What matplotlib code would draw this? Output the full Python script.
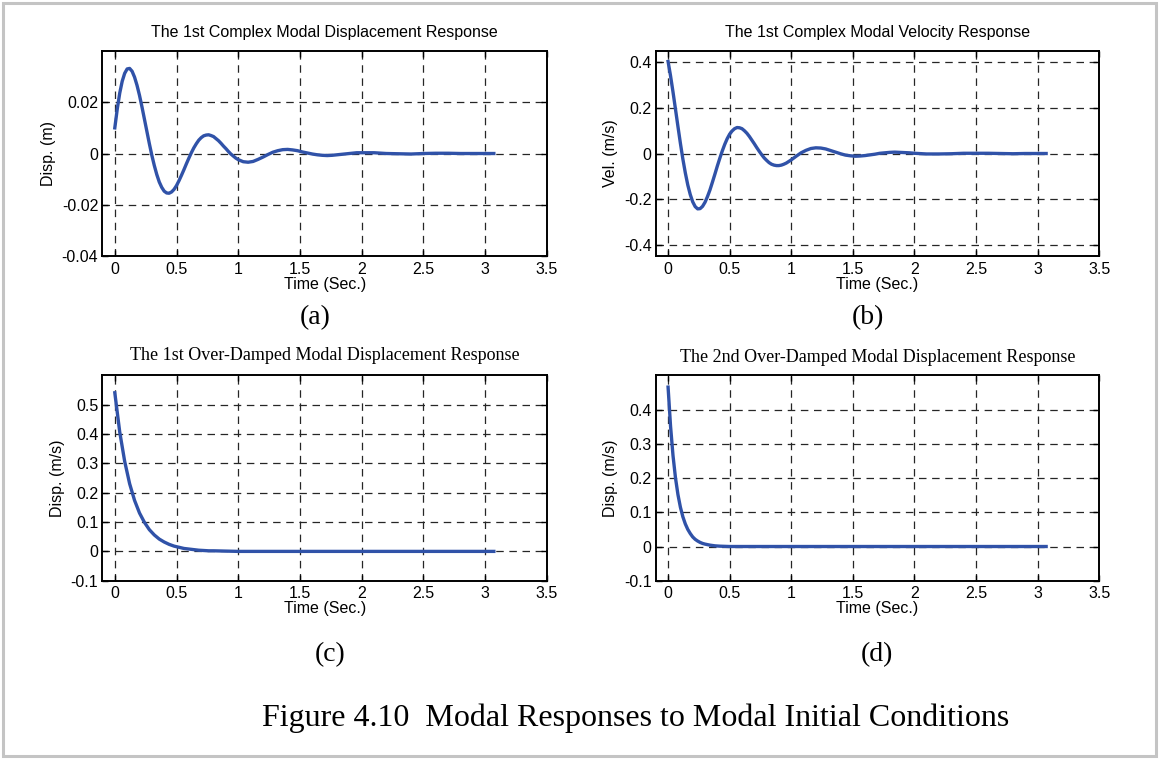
import matplotlib
matplotlib.use('Agg')
import matplotlib.pyplot as plt
from matplotlib.patches import Rectangle

# time samples (sec) for the complex mode, dense while it still rings
t_complex = [0.00, 0.02, 0.04, 0.06, 0.08, 0.10, 0.12, 0.14, 0.16, 0.18,
             0.20, 0.22, 0.24, 0.26, 0.28, 0.30, 0.32, 0.34, 0.36, 0.38,
             0.40, 0.42, 0.44, 0.46, 0.48, 0.50, 0.52, 0.54, 0.56, 0.58,
             0.60, 0.62, 0.64, 0.66, 0.68, 0.70, 0.72, 0.74, 0.76, 0.78,
             0.80, 0.82, 0.84, 0.86, 0.88, 0.90, 0.92, 0.94, 0.96, 0.98,
             1.00, 1.04, 1.08, 1.12, 1.16, 1.20, 1.24, 1.28, 1.32, 1.36,
             1.40, 1.44, 1.48, 1.52, 1.56, 1.60, 1.64, 1.68, 1.72, 1.76,
             1.80, 1.84, 1.88, 1.92, 1.96, 2.00, 2.10, 2.20, 2.30, 2.40,
             2.50, 2.60, 2.70, 2.80, 2.90, 3.00, 3.07]

# 1st complex mode displacement (m)
disp_complex = [0.0100, 0.0174, 0.0236, 0.0282, 0.0313, 0.0330, 0.0332, 0.0321, 0.0298, 0.0266,
                0.0227, 0.0182, 0.0134, 0.0086, 0.0038, -0.0007, -0.0047, -0.0082, -0.0111, -0.0132,
                -0.0147, -0.0154, -0.0155, -0.0150, -0.0140, -0.0125, -0.0106, -0.0085, -0.0063, -0.0040,
                -0.0018, 0.0003, 0.0022, 0.0038, 0.0052, 0.0062, 0.0069, 0.0072, 0.0073, 0.0070,
                0.0066, 0.0058, 0.0050, 0.0040, 0.0029, 0.0019, 0.0008, -0.0002, -0.0010, -0.0018,
                -0.0024, -0.0032, -0.0034, -0.0031, -0.0023, -0.0014, -0.0004, 0.0005, 0.0011, 0.0015,
                0.0016, 0.0014, 0.0011, 0.0006, 0.0002, -0.0002, -0.0005, -0.0007, -0.0008, -0.0007,
                -0.0005, -0.0003, -0.0001, 0.0001, 0.0003, 0.0003, 0.0003, 0.0000, -0.0001, -0.0002,
                0.0000, 0.0001, 0.0001, 0.0000, 0.0000, 0.0000, 0.0000]

# 1st complex mode velocity (m/s)
vel_complex = [0.404, 0.341, 0.270, 0.195, 0.119, 0.045, -0.024, -0.085, -0.138, -0.180,
               -0.212, -0.233, -0.243, -0.242, -0.232, -0.214, -0.189, -0.160, -0.126, -0.091,
               -0.055, -0.021, 0.011, 0.040, 0.065, 0.085, 0.099, 0.109, 0.114, 0.113,
               0.109, 0.100, 0.089, 0.075, 0.059, 0.043, 0.026, 0.010, -0.005, -0.019,
               -0.030, -0.040, -0.047, -0.051, -0.053, -0.053, -0.051, -0.047, -0.042, -0.035,
               -0.028, -0.012, 0.003, 0.014, 0.022, 0.025, 0.024, 0.020, 0.013, 0.006,
               -0.001, -0.007, -0.010, -0.012, -0.011, -0.009, -0.006, -0.003, 0.001, 0.003,
               0.005, 0.006, 0.005, 0.004, 0.003, 0.001, -0.002, -0.002, -0.001, 0.001,
               0.001, 0.001, 0.000, -0.001, 0.000, 0.000, 0.000]

# over-damped modes
t_over1 = [0.00, 0.04, 0.08, 0.12, 0.16, 0.20, 0.24, 0.28, 0.32, 0.36,
           0.40, 0.44, 0.48, 0.52, 0.56, 0.60, 0.64, 0.68, 0.72, 0.76,
           0.80, 0.90, 1.00, 1.50, 2.00, 2.50, 3.00, 3.07]
disp_over1 = [0.541, 0.407, 0.307, 0.231, 0.174, 0.131, 0.099, 0.074, 0.056, 0.042,
              0.032, 0.024, 0.018, 0.014, 0.010, 0.008, 0.006, 0.004, 0.003, 0.002,
              0.002, 0.001, 0.000, 0.000, 0.000, 0.000, 0.000, 0.000]

t_over2 = [0.00, 0.02, 0.04, 0.06, 0.08, 0.10, 0.12, 0.14, 0.16, 0.18,
           0.20, 0.22, 0.24, 0.26, 0.28, 0.30, 0.34, 0.38, 0.42, 0.50,
           0.60, 1.00, 1.50, 2.00, 2.50, 3.00, 3.07]
disp_over2 = [0.466, 0.352, 0.266, 0.201, 0.152, 0.115, 0.087, 0.066, 0.050, 0.038,
              0.028, 0.021, 0.016, 0.012, 0.009, 0.007, 0.004, 0.002, 0.001, 0.000,
              0.000, 0.000, 0.000, 0.000, 0.000, 0.000, 0.000]

x_ticks = [0, 0.5, 1, 1.5, 2, 2.5, 3, 3.5]
x_labels = ['0', '0.5', '1', '1.5', '2', '2.5', '3', '3.5']

line_color = '#3052a8'
sans = 'Liberation Sans'
serif = 'Liberation Serif'

fig = plt.figure(figsize=(11.59, 7.59), dpi=100)

# grey frame round the whole figure
fig.patches.append(Rectangle((3 / 1159, 3 / 759), 1153 / 1159, 753 / 759,
                             transform=fig.transFigure, fill=False,
                             edgecolor='#c4c4c4', linewidth=2.2))


def make_panel(rect, t, y, ylim, yticks, ylabels, ylab, title, title_font, title_size, title_y):
    ax = fig.add_axes(rect)
    ax.plot(t, y, color=line_color, linewidth=2.4, solid_joinstyle='round')
    ax.set_xlim(-0.1, 3.5)
    ax.set_ylim(ylim)
    ax.set_xticks(x_ticks)
    ax.set_xticklabels(x_labels, fontfamily=sans, fontsize=11.5)
    ax.set_yticks(yticks)
    ax.set_yticklabels(ylabels, fontfamily=sans, fontsize=11.5)
    ax.tick_params(direction='in', length=4, width=1, top=True, right=True, pad=3)
    ax.tick_params(axis='x', pad=4)
    ax.grid(True, color='0.15', linestyle=(0, (6, 4.5)), linewidth=0.9)
    for s in ax.spines.values():
        s.set_linewidth(1.4)
    ax.set_xlabel('Time (Sec.)', fontfamily=sans, fontsize=11.5, labelpad=0)
    ax.set_ylabel(ylab, fontfamily=sans, fontsize=11.5, labelpad=4)
    ax.text(0.5, title_y, title, transform=ax.transAxes, ha='center', va='center',
            fontfamily=title_font, fontsize=title_size)
    return ax


make_panel([0.0884, 0.6627, 0.3835, 0.2701], t_complex, disp_complex, (-0.04, 0.04),
           [-0.04, -0.02, 0, 0.02], ['-0.04', '-0.02', '0', '0.02'], 'Disp. (m)',
           'The 1st Complex Modal Displacement Response', sans, 11.5, 1.089)

make_panel([0.5658, 0.6627, 0.3825, 0.2701], t_complex, vel_complex, (-0.45, 0.45),
           [-0.4, -0.2, 0, 0.2, 0.4], ['-0.4', '-0.2', '0', '0.2', '0.4'], 'Vel. (m/s)',
           'The 1st Complex Modal Velocity Response', sans, 11.5, 1.089)

make_panel([0.0884, 0.2349, 0.3835, 0.2704], t_over1, disp_over1, (-0.1, 0.6),
           [-0.1, 0, 0.1, 0.2, 0.3, 0.4, 0.5], ['-0.1', '0', '0.1', '0.2', '0.3', '0.4', '0.5'],
           'Disp. (m/s)', 'The 1st Over-Damped Modal Displacement Response', serif, 13, 1.095)

make_panel([0.5658, 0.2349, 0.3825, 0.2704], t_over2, disp_over2, (-0.1, 0.5),
           [-0.1, 0, 0.1, 0.2, 0.3, 0.4], ['-0.1', '0', '0.1', '0.2', '0.3', '0.4'],
           'Disp. (m/s)', 'The 2nd Over-Damped Modal Displacement Response', serif, 13, 1.088)

# sub-figure letters and the figure caption
for x, y, s in [(315, 318, '(a)'), (868, 318, '(b)'), (330, 655, '(c)'), (877, 655, '(d)')]:
    fig.text(x / 1159, 1 - y / 759, s, ha='center', va='center', fontfamily=serif, fontsize=20)

fig.text(636 / 1159, 1 - 718 / 759, 'Figure 4.10  Modal Responses to Modal Initial Conditions',
         ha='center', va='center', fontfamily=serif, fontsize=23)

plt.savefig('out.png', dpi=100)
